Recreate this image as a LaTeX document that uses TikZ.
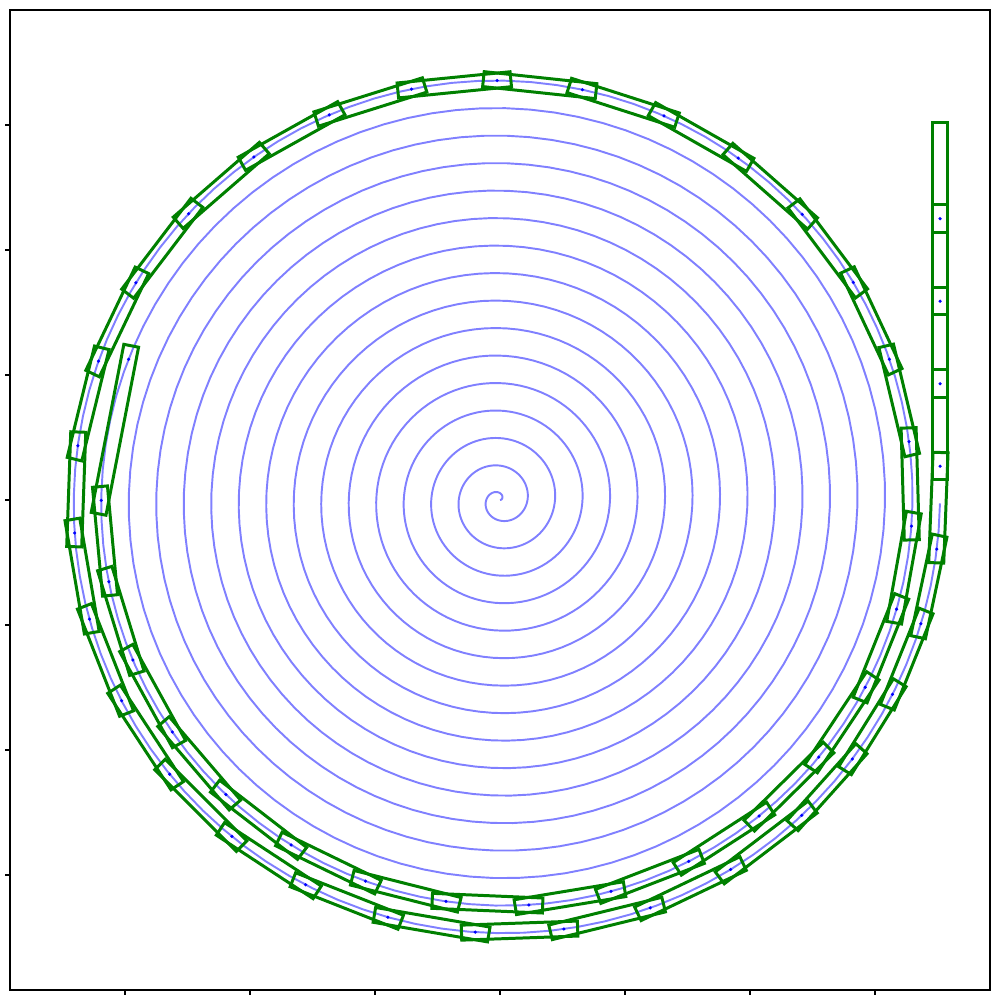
\documentclass[tikz,border=0pt]{standalone}
\usetikzlibrary{calc}
\definecolor{mplgreen}{HTML}{008000}
\definecolor{mplblue}{HTML}{0000FF}
\definecolor{spiralblue}{HTML}{8080FF}

\begin{document}
\begin{tikzpicture}[x=0.5cm,y=0.5cm,
  spiralLine/.style={color=spiralblue, line width=0.55pt},
  benchLine/.style={draw=mplgreen, line width=0.85pt},
  holeDot/.style={fill=mplblue},
  axisLine/.style={line width=0.3pt, color=black},
]
\useasboundingbox (-10,-10) rectangle (10,10);
% spiral r = b*theta, pitch 0.55 m, 16 turns
\def\bb{0.0875352}
\def\thEnd{100.531}
\def\dth{0.20515}
\draw[spiralLine] plot[domain=0:\thEnd, samples=1600] ({\bb*\x*cos(\x r)},{\bb*\x*sin(\x r)});
% head bench: front and rear hole
\foreach \k/\t in {1/90.744, 2/91.107}
  \coordinate (j\k) at ({\bb*\t*cos(\t r)},{\bb*\t*sin(\t r)});
% body holes along the spiral
\foreach \k in {3,...,44} {
  \pgfmathsetmacro{\t}{91.107+(\k-2)*\dth}
  \coordinate (j\k) at ({\bb*\t*cos(\t r)},{\bb*\t*sin(\t r)});
}
% last holes before the end of the spiral
\foreach \k in {45,...,48} {
  \pgfmathsetmacro{\t}{99.723+(\k-44)*0.174}
  \coordinate (j\k) at ({\bb*\t*cos(\t r)},{\bb*\t*sin(\t r)});
}
% rest of the body, straight up from the end of the spiral
\foreach \k in {49,...,53}
  \coordinate (j\k) at (8.8,{0.675+(\k-49)*1.65});
% benches: 0.275 m past each hole, 0.30 m wide
\foreach \i [evaluate=\i as \j using int(\i+1)] in {1,...,52} {
  \coordinate (e1) at ($(j\i)!-0.1375cm!(j\j)$);
  \coordinate (e2) at ($(j\j)!-0.1375cm!(j\i)$);
  \draw[benchLine] ($(e1)!0.075cm!90:(e2)$) -- ($(e1)!0.075cm!-90:(e2)$)
    -- ($(e2)!0.075cm!90:(e1)$) -- ($(e2)!0.075cm!-90:(e1)$) -- cycle;
}
\foreach \k in {1,...,52}
  \fill[holeDot] (j\k) circle (0.5pt);
% axes frame and ticks
\draw[axisLine] (-9.8,-9.8) rectangle (9.8,9.8);
\foreach \v in {-7.5,-5,-2.5,0,2.5,5,7.5} {
  \draw[axisLine] (\v,-9.8) -- (\v,-9.9);
  \draw[axisLine] (-9.8,\v) -- (-9.9,\v);
}
\end{tikzpicture}
\end{document}
